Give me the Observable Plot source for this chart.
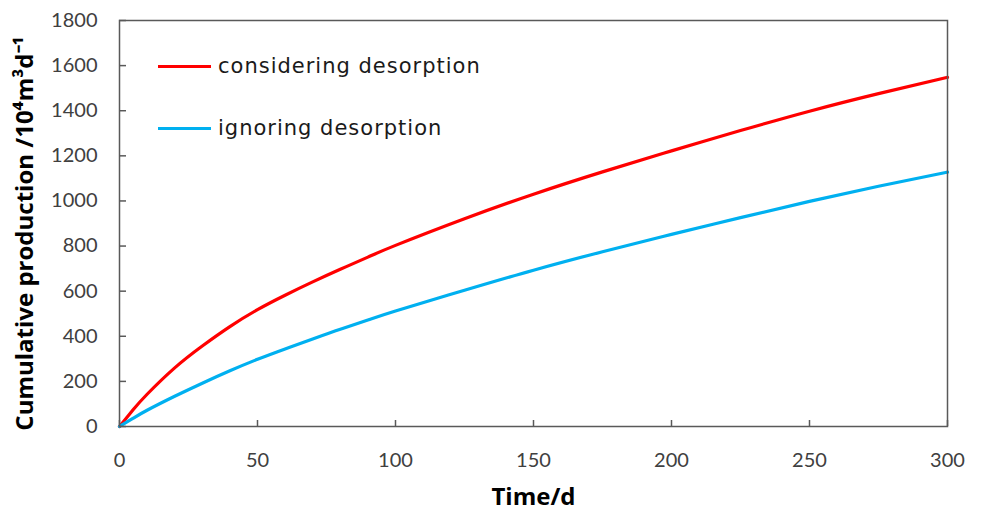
<!DOCTYPE html>
<html>
<head>
<meta charset="utf-8">
<script src="https://cdn.jsdelivr.net/npm/d3@7"></script>
<script src="https://cdn.jsdelivr.net/npm/@observablehq/plot@0.6"></script>
<style>
  body { margin: 0; background: white; }
  #wrap { position: relative; width: 983px; height: 512px; }
  #legend { position: absolute; left: 158px; top: 46px; font-family: "DejaVu Sans", sans-serif; font-size: 21px; letter-spacing: 1px; color: #1a1a1a; }
  .item { display: flex; align-items: center; height: 40px; margin-bottom: 22px; }
  .sw { width: 53px; height: 3px; margin-right: 7px; }
</style>
</head>
<body>
<div id="wrap"><div id="legend"></div></div>
<script>
// Data
const days        = [0, 5, 10, 20, 30, 40, 50, 60, 70, 80, 90, 100, 125, 150, 175, 200, 225, 250, 275, 300];
const considering = [0, 75, 143, 260, 357, 443, 518, 582, 641, 697, 751, 803, 921, 1030, 1129, 1222, 1312, 1398, 1476, 1548];
const ignoring    = [0, 37, 72, 134, 192, 247, 298, 344, 388, 431, 472, 512, 604, 693, 775, 852, 926, 998, 1065, 1128];
const seriesNames  = ["considering desorption", "ignoring desorption"];
const seriesColors = ["#ff0000", "#00b0f0"];
const xTicks = [0, 50, 100, 150, 200, 250, 300];
const yTicks = [0, 200, 400, 600, 800, 1000, 1200, 1400, 1600, 1800];
const xTitle = "Time/d";
const yTitle = "Cumulative production /10\u2074m\u00B3d\u207B\u00B9";

const rows = [];
[considering, ignoring].forEach((vals, i) => {
  days.forEach((d, j) => rows.push({series: seriesNames[i], day: d, value: vals[j]}));
});

const chart = Plot.plot({
  width: 983,
  height: 512,
  marginLeft: 119,
  marginRight: 36,
  marginTop: 20,
  marginBottom: 86,
  style: {fontFamily: "Lato, sans-serif", fontSize: "20px", color: "#404040", background: "white"},
  x: {domain: [0, 300]},
  y: {domain: [0, 1800]},
  color: {domain: seriesNames, range: seriesColors},
  marks: [
    Plot.line(rows, {x: "day", y: "value", stroke: "series", strokeWidth: 3.2, curve: "natural"}),
    Plot.frame({stroke: "#595959", strokeWidth: 1.5}),
    Plot.axisX({ticks: xTicks, tickSize: 0, tickPadding: 26, tickFormat: d => String(d), label: null, fill: "#404040"}),
    Plot.axisX({ticks: xTicks, tickSize: -6, tickFormat: () => "", label: null, stroke: "#595959", strokeWidth: 1.5}),
    Plot.axisY({ticks: yTicks, tickSize: 0, tickPadding: 22, tickFormat: d => String(d), label: null, fill: "#404040"}),
    Plot.axisY({ticks: yTicks, tickSize: -7, tickFormat: () => "", label: null, stroke: "#595959", strokeWidth: 1.5}),
    Plot.text([xTitle], {frameAnchor: "bottom", dy: 71, lineAnchor: "middle", textAnchor: "middle", text: d => d, fontFamily: "Open Sans", fontSize: 24, fontWeight: "bold", fill: "#000"}),
    Plot.text([yTitle], {frameAnchor: "left", rotate: -90, dx: -94, dy: 10, textAnchor: "middle", lineAnchor: "middle", text: d => d, fontFamily: "Open Sans", fontSize: 24, fontWeight: "bold", fill: "#000"})
  ]
});
document.getElementById("wrap").prepend(chart);

const legend = document.getElementById("legend");
seriesNames.forEach((name, i) => {
  const item = document.createElement("div");
  item.className = "item";
  const sw = document.createElement("div");
  sw.className = "sw";
  sw.style.background = seriesColors[i];
  const label = document.createElement("span");
  label.textContent = name;
  item.append(sw, label);
  legend.append(item);
});
</script>
</body>
</html>
